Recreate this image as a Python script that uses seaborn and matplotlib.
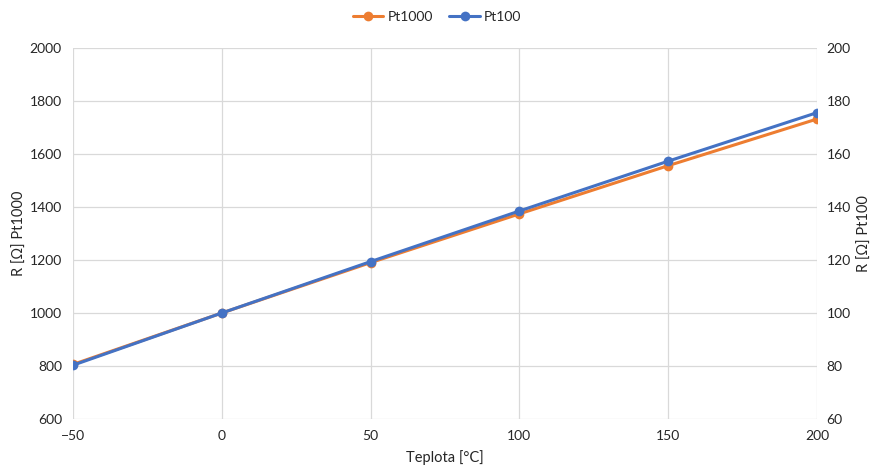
import matplotlib
matplotlib.use("Agg")
import matplotlib.pyplot as plt
import seaborn as sns
import pandas as pd

temps = [-50, 0, 50, 100, 150, 200]
pt1000 = [806, 1000, 1190, 1374, 1556, 1732]
pt100 = [80.3, 100.0, 119.4, 138.5, 157.3, 175.6]

sns.set_theme(style="white")
plt.rcParams['font.family'] = ['Lato', 'DejaVu Sans']

orange = "#ED7D31"
blue = "#4472C4"
grid_c = "#D9D9D9"
txt_c = "#262626"

df = pd.DataFrame({"t": temps, "pt1000": pt1000, "pt100": pt100})

fig = plt.figure(figsize=(8.74, 4.71), dpi=100)
ax = fig.add_axes([73/874, 1-419/471, (817-73)/874, (419-48)/471])
ax2 = ax.twinx()

sns.lineplot(data=df, x="t", y="pt1000", ax=ax, color=orange, lw=2.2,
             marker="o", markersize=7, markeredgewidth=0, label="Pt1000", legend=False)
sns.lineplot(data=df, x="t", y="pt100", ax=ax2, color=blue, lw=2.2,
             marker="o", markersize=7, markeredgewidth=0, label="Pt100", legend=False)

ax.set_xlim(-50, 200)
ax.set_ylim(600, 2000)
ax2.set_ylim(60, 200)
ax.set_xticks([-50, 0, 50, 100, 150, 200])
ax.set_yticks(range(600, 2001, 200))
ax2.set_yticks(range(60, 201, 20))

for a in (ax, ax2):
    for s in a.spines.values():
        s.set_visible(False)
    a.tick_params(colors=txt_c, labelsize=10, length=0)
ax.tick_params(axis='x', pad=8)
ax.tick_params(axis='y', pad=8)
ax2.tick_params(axis='y', pad=7)
ax.grid(True, color=grid_c, lw=0.9)
ax2.grid(False)
ax.set_axisbelow(True)

ax.set_xlabel("Teplota [°C]", color=txt_c, fontsize=10.5, labelpad=6)
ax.set_ylabel("R [Ω] Pt1000", color=txt_c, fontsize=10.5, labelpad=2)
ax2.set_ylabel("R [Ω] Pt100", color=txt_c, fontsize=10.5, labelpad=5)

h1, l1 = ax.get_legend_handles_labels()
h2, l2 = ax2.get_legend_handles_labels()
fig.legend(h1 + h2, l1 + l2, loc="center", bbox_to_anchor=(0.5, 1-17/471), ncol=2,
           frameon=False, fontsize=10, labelcolor=txt_c, handlelength=2.2,
           columnspacing=1.2, handletextpad=0.3)

fig.savefig("out.png", dpi=100)
